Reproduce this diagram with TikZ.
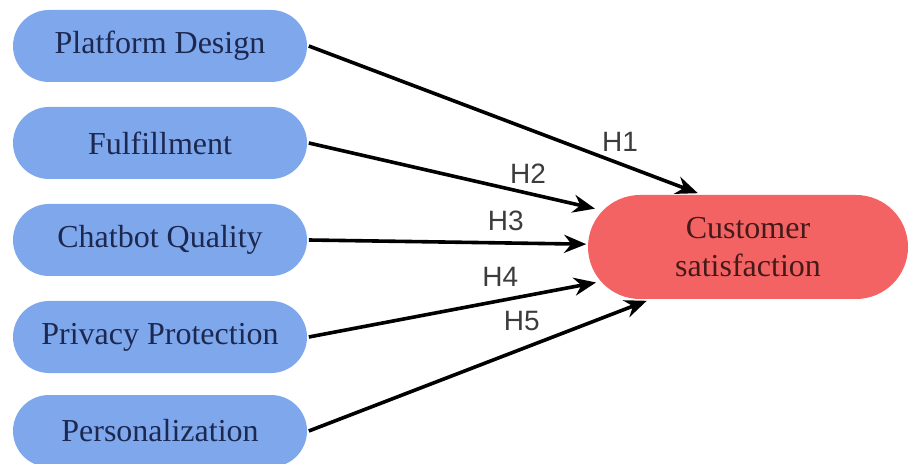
\documentclass[tikz,border=0pt]{standalone}
\usepackage{fontspec}
\setmainfont{Liberation Serif}
\newfontfamily\hfont{Liberation Sans}
\usetikzlibrary{arrows.meta}
\definecolor{factorblue}{RGB}{127,167,236}
\definecolor{factortext}{RGB}{28,40,80}
\definecolor{outred}{RGB}{243,99,99}
\definecolor{outtext}{RGB}{70,25,25}
\definecolor{hyptext}{RGB}{60,60,60}
\tikzset{
  factor/.style={fill=factorblue, text=factortext, rounded corners=18pt,
    minimum width=147pt, minimum height=36pt, font=\fontsize{16}{19}\selectfont},
  outcome/.style={fill=outred, text=outtext, rounded corners=26pt, align=center,
    minimum width=160pt, minimum height=52pt, font=\fontsize{16}{19}\selectfont},
  hyp/.style={font=\hfont\fontsize{14}{16}\selectfont, text=hyptext, inner sep=1pt}
}
\begin{document}
\begin{tikzpicture}[x=0.5pt,y=-0.5pt,>={Stealth[length=11pt,width=9pt]},line width=1.8pt]
    \useasboundingbox (0,0) rectangle (914,464);
    \node[factor] (PD) at (160,46)  {Platform Design};
    \node[factor] (FU) at (160,143) {Fulfillment};
    \node[factor] (CQ) at (160,240) {Chatbot Quality};
    \node[factor] (PP) at (160,337) {Privacy Protection};
    \node[factor] (PE) at (160,431) {Personalization};
    \node[outcome] (CS) at (748,247) {Customer\\satisfaction};
    \begin{scope}[every node/.style={hyp}]
        \draw[->] (PD.east) -- node[pos=0.8, above=4pt] {H1} (CS.133);
        \draw[->,shorten >=-4.5pt] (FU.east) -- node[pos=0.79, above=3pt] {H2} (CS.166);
        \draw[->] (CQ.east) -- node[pos=0.71, above=4pt] {H3} (CS.179);
        \draw[->,shorten >=-5pt] (PP.east) -- node[pos=0.69, above=5pt] {H4} (CS.193);
        \draw[->] (PE.east) -- node[pos=0.63, above=7pt] {H5} (CS.208);
    \end{scope}
\end{tikzpicture}
\end{document}
